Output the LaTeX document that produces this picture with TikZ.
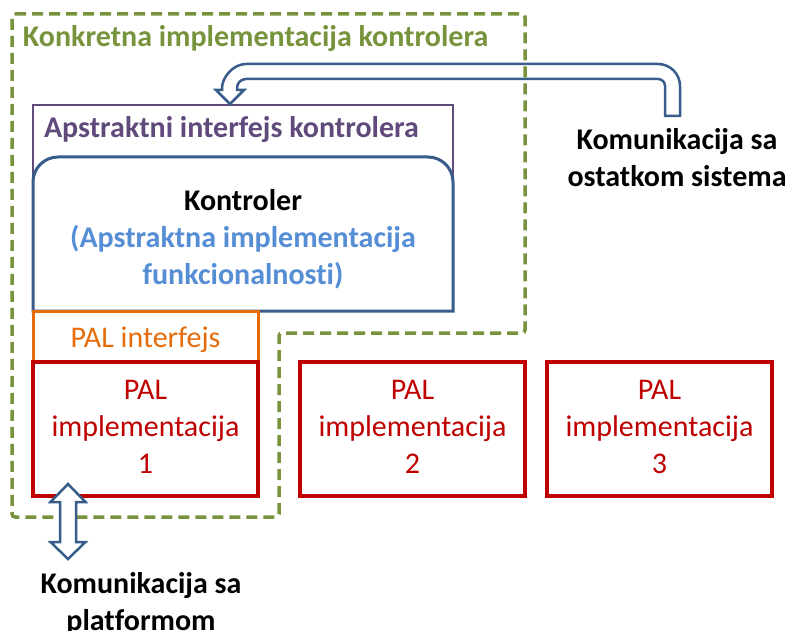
\documentclass[tikz,border=0pt]{standalone}
\usepackage{fontspec}
\setmainfont{Carlito}[Ligatures=NoCommon]
\definecolor{olive}{HTML}{77933C}
\definecolor{plum}{HTML}{604A7B}
\definecolor{steel}{HTML}{385D8A}
\definecolor{sky}{HTML}{558ED5}
\definecolor{amber}{HTML}{E46C0A}
\definecolor{crimson}{HTML}{C00000}
\begin{document}
\begin{tikzpicture}[x=1pt,y=-1pt,
  every node/.style={inner sep=0pt,outer sep=0pt},
  txt/.style={font=\fontsize{30}{37}\selectfont},
  btxt/.style={font=\fontsize{30}{37}\selectfont\bfseries},
  palbox/.style={draw=crimson,line width=3.2pt,fill=white,minimum width=225pt,
    minimum height=134pt,align=center,text=crimson,txt},
  blockarrow/.style={draw=steel,line width=2.5pt,fill=white,line join=miter}]
\useasboundingbox (0,0) rectangle (790,631);

% abstract controller interface
\draw[plum,line width=2.5pt] (33,105) rectangle (453,311);
\node[btxt,text=plum,anchor=base west] (apiface) at (44,138) {Apstraktni interfejs kontrolera};

% controller body with rounded top corners
\draw[steel,line width=3pt,fill=white]
  (33,311) -- (33,182) .. controls (33,168.2) and (44.2,157) .. (58,157)
  -- (428,157) .. controls (441.8,157) and (453,168.2) .. (453,182)
  -- (453,311) -- cycle;
\node[txt,align=center] (ctrl) at (243,239.6)
  {\strut\textbf{Kontroler}\\
   \textcolor{sky}{\textbf{(Apstraktna implementacija}}\\
   \textcolor{sky}{\textbf{funkcionalnosti)}}\strut};

% PAL interface
\draw[amber,line width=3pt] (33,311) rectangle (258,362);
\node[txt,text=amber,anchor=base] (paliface) at (145.5,347) {PAL interfejs};

% PAL implementations
\node[palbox] (pal1) at (145.5,429) {\strut PAL\\implementacija\\1\strut};
\node[palbox] (pal2) at (412.5,429) {\strut PAL\\implementacija\\2\strut};
\node[palbox] (pal3) at (659.5,429) {\strut PAL\\implementacija\\3\strut};

% bent arrow: communication with the rest of the system
\draw[blockarrow]
  (680,116) -- (680,86) .. controls (680,73.85) and (670.15,64) .. (658,64)
  -- (246,64) .. controls (232.75,64) and (222,77.75) .. (222,88)
  -- (222,90) -- (216,90) -- (230,104) -- (244,90) -- (237,90) -- (237,88)
  .. controls (237,83.03) and (241.03,79) .. (246,79)
  -- (658,79) .. controls (661.87,79) and (665,82.13) .. (665,86)
  -- (665,116) -- cycle;

% concrete controller implementation (dashed boundary)
\draw[olive,line width=3.5pt,dash pattern=on 11pt off 6pt,rounded corners=3pt]
  (12,14) -- (525,14) -- (525,333) -- (279,333) -- (279,517) -- (12,517) -- cycle;
\node[btxt,text=olive,anchor=base west] (concrete) at (23,47) {Konkretna implementacija kontrolera};

% double arrow: communication with the platform
\draw[blockarrow]
  (68,484) -- (85.5,502) -- (76,502) -- (76,542) -- (85.5,542) -- (68,559)
  -- (50.5,542) -- (60,542) -- (60,502) -- (50.5,502) -- cycle;

% captions
\node[btxt,align=center] (sysnote) at (677,161.1) {\strut Komunikacija sa\\ostatkom sistema\strut};
\node[btxt,align=center] (platnote) at (141,604.1) {\strut Komunikacija sa\\platformom\strut};
\end{tikzpicture}
\end{document}
